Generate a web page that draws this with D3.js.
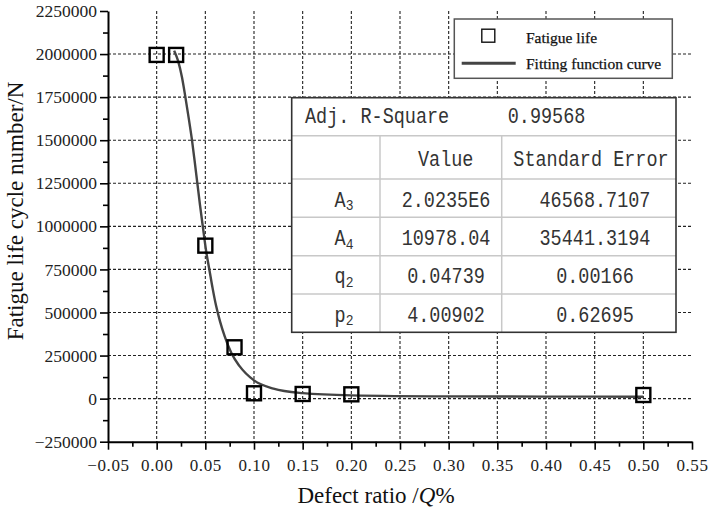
<!DOCTYPE html>
<html><head><meta charset="utf-8">
<script src="https://cdn.jsdelivr.net/npm/d3@7"></script>
<style>body{margin:0;background:#fff}svg{display:block}</style>
</head><body>
<svg id="c" width="718" height="507"></svg>
<script>
// ---- data ----
const xTicks=[-0.05,0,0.05,0.10,0.15,0.20,0.25,0.30,0.35,0.40,0.45,0.50,0.55];
const xTickLabels=["\u22120.05","0.00","0.05","0.10","0.15","0.20","0.25","0.30","0.35","0.40","0.45","0.50","0.55"];
const yTicks=[-250000,0,250000,500000,750000,1000000,1250000,1500000,1750000,2000000,2250000];
const yTickLabels=["\u2212250000","0","250000","500000","750000","1000000","1250000","1500000","1750000","2000000","2250000"];
const pointX=[0,0.02,0.05,0.08,0.10,0.15,0.20,0.50];
const pointY=[1995000,1995000,888000,298000,31000,27000,25000,21000];
const curveX=[0.018,0.022,0.026,0.0295,0.033,0.0363,0.039,0.0418,0.0445,0.0474,0.051,0.0541,0.0575,0.061,0.065,0.07,0.077,0.085,0.10,0.12,0.15,0.20,0.30,0.40,0.50];
const curveY=[2020000,1960000,1865000,1750000,1625000,1500000,1380000,1250000,1125000,1000000,850000,750000,640000,540000,450000,360000,262000,190000,106000,58000,32000,19000,13000,11800,11300];
const legendLabels=["Fatigue life","Fitting function curve"];
const fitStatLabel="Adj. R-Square", fitStatValue="0.99568";
const tableHeader=["","Value","Standard Error"];
const paramNames=["A","A","q","p"];
const paramSubs=["3","4","2","2"];
const paramValues=["2.0235E6","10978.04","0.04739","4.00902"];
const paramErrors=["46568.7107","35441.3194","0.00166","0.62695"];

// ---- layout ----
const svg=d3.select("#c");
const x=d3.scaleLinear().domain([-0.05,0.55]).range([108,692]);
const y=d3.scaleLinear().domain([-250000,2250000]).range([441.7,11]);
const X0=x(-0.05), X1=x(0.55), Y0=y(-250000), Y1=y(2250000);

// grid
const grid=svg.append("g").attr("stroke","#222").attr("stroke-width",1.1).attr("stroke-dasharray","3,2");
grid.selectAll("line.v").data(xTicks.filter(d=>d>-0.04&&d<0.54)).join("line")
  .attr("x1",d=>x(d)).attr("x2",d=>x(d)).attr("y1",Y1).attr("y2",Y0);
grid.selectAll("line.h").data(yTicks.filter(d=>d>-1&&d<2200000)).join("line")
  .attr("x1",X0).attr("x2",X1).attr("y1",d=>y(d)).attr("y2",d=>y(d));

// curve
const line=d3.line().x(d=>x(d[0])).y(d=>y(d[1])).curve(d3.curveMonotoneX);
svg.append("path").datum(curveX.map((v,i)=>[v,curveY[i]]))
  .attr("d",line).attr("fill","none").attr("stroke","#444").attr("stroke-width",2.4);

// points
svg.append("g").selectAll("rect").data(pointX.map((v,i)=>[v,pointY[i]])).join("rect")
  .attr("x",d=>x(d[0])-7).attr("y",d=>y(d[1])-7).attr("width",14).attr("height",14)
  .attr("fill","none").attr("stroke","#000").attr("stroke-width",2.4);

// axes
const tickFont="'Liberation Serif','Times New Roman',serif";
const minorX=xTicks.slice(0,-1).map((d,i)=>(d+xTicks[i+1])/2);
const minorY=yTicks.slice(0,-1).map((d,i)=>(d+yTicks[i+1])/2);
const xa=svg.append("g").attr("transform",`translate(0,${Y0})`)
  .call(d3.axisBottom(x).tickValues(xTicks).tickFormat((d,i)=>xTickLabels[i]).tickSize(8).tickSizeOuter(0).tickPadding(9.5));
svg.append("g").attr("transform",`translate(0,${Y0})`)
  .call(d3.axisBottom(x).tickValues(minorX).tickFormat("").tickSize(5).tickSizeOuter(0)).select(".domain").remove();
const ya=svg.append("g").attr("transform",`translate(${X0},0)`)
  .call(d3.axisLeft(y).tickValues(yTicks).tickFormat((d,i)=>yTickLabels[i]).tickSize(8).tickSizeOuter(0).tickPadding(3));
svg.append("g").attr("transform",`translate(${X0},0)`)
  .call(d3.axisLeft(y).tickValues(minorY).tickFormat("").tickSize(5).tickSizeOuter(0)).select(".domain").remove();
svg.selectAll(".domain").attr("stroke","#000").attr("stroke-width",2);
svg.selectAll(".tick line").attr("stroke","#000").attr("stroke-width",1.6);
xa.selectAll("text").attr("font-family",tickFont).attr("font-size",17).attr("letter-spacing","0.6px").attr("fill","#222");
ya.selectAll("text").attr("font-family",tickFont).attr("font-size",17.5).attr("fill","#222");

// axis titles
const tf="'Liberation Serif','Times New Roman',serif";
const xt=svg.append("text").attr("x",376).attr("y",503).attr("text-anchor","middle")
  .attr("font-family",tf).attr("font-size",23).attr("fill","#111");
xt.append("tspan").text("Defect ratio /");
xt.append("tspan").attr("font-style","italic").text("Q");
xt.append("tspan").text("%");
svg.append("text").attr("transform","translate(23,211) rotate(-90)").attr("text-anchor","middle")
  .attr("font-family",tf).attr("font-size",23).attr("fill","#111").text("Fatigue life cycle number/N");

// legend
const lg=svg.append("g");
lg.append("rect").attr("x",454.3).attr("y",19).attr("width",218).attr("height",59.3)
  .attr("fill","#fff").attr("stroke","#555").attr("stroke-width",1.5);
lg.append("rect").attr("x",481.8).attr("y",29.2).attr("width",13).attr("height",13)
  .attr("fill","none").attr("stroke","#111").attr("stroke-width",1.4);
lg.append("line").attr("x1",461.7).attr("x2",515.7).attr("y1",63.3).attr("y2",63.3)
  .attr("stroke","#444").attr("stroke-width",3);
lg.selectAll("text").data(legendLabels).join("text")
  .attr("x",526).attr("y",(d,i)=>i?68.5:42.5).attr("font-family",tf).attr("font-size",15.5)
  .attr("fill","#111").attr("stroke","#111").attr("stroke-width",0.25).text(d=>d);

// table
const tb=svg.append("g");
const TL=291.7, TR=676, TT=97.7, TB=332.3;
const rowY=[TT,135.7,179,217.3,255.7,294,TB];
const colX=[TL,380,501.7,TR];
tb.append("rect").attr("x",TL).attr("y",TT).attr("width",TR-TL).attr("height",TB-TT).attr("fill","#fff");
tb.selectAll("line.r").data(rowY.slice(1,-1)).join("line")
  .attr("x1",TL).attr("x2",TR).attr("y1",d=>d).attr("y2",d=>d).attr("stroke","#c8c8c8").attr("stroke-width",1.5);
tb.selectAll("line.c").data(colX.slice(1,-1)).join("line")
  .attr("x1",d=>d).attr("x2",d=>d).attr("y1",rowY[1]).attr("y2",TB).attr("stroke","#c8c8c8").attr("stroke-width",1.5);
tb.append("rect").attr("x",TL).attr("y",TT).attr("width",TR-TL).attr("height",TB-TT)
  .attr("fill","none").attr("stroke","#333").attr("stroke-width",1.6);
const mf="'Liberation Mono','DejaVu Sans Mono',monospace";
function cell(txt,cx,base,anchor,sub){
  const t=tb.append("text").attr("transform",`translate(${cx},${base}) scale(1,1.18)`)
    .attr("text-anchor",anchor).attr("font-family",mf).attr("font-size",18.5).attr("fill","#333");
  t.append("tspan").text(txt);
  if(sub) t.append("tspan").attr("font-size",13).attr("dy",3).text(sub);
  return t;
}
cell(fitStatLabel,305,123,"start");
cell(fitStatValue,507.7,123,"start");
cell(tableHeader[1],445.7,165.5,"middle");
cell(tableHeader[2],513.3,165.5,"start");
const base=[206.5,245,283.3,321.7];
paramNames.forEach((n,i)=>{
  cell(n,344,base[i],"middle",paramSubs[i]);
  cell(paramValues[i],446,base[i],"middle");
  cell(paramErrors[i],595,base[i],"middle");
});
</script>
</body></html>
